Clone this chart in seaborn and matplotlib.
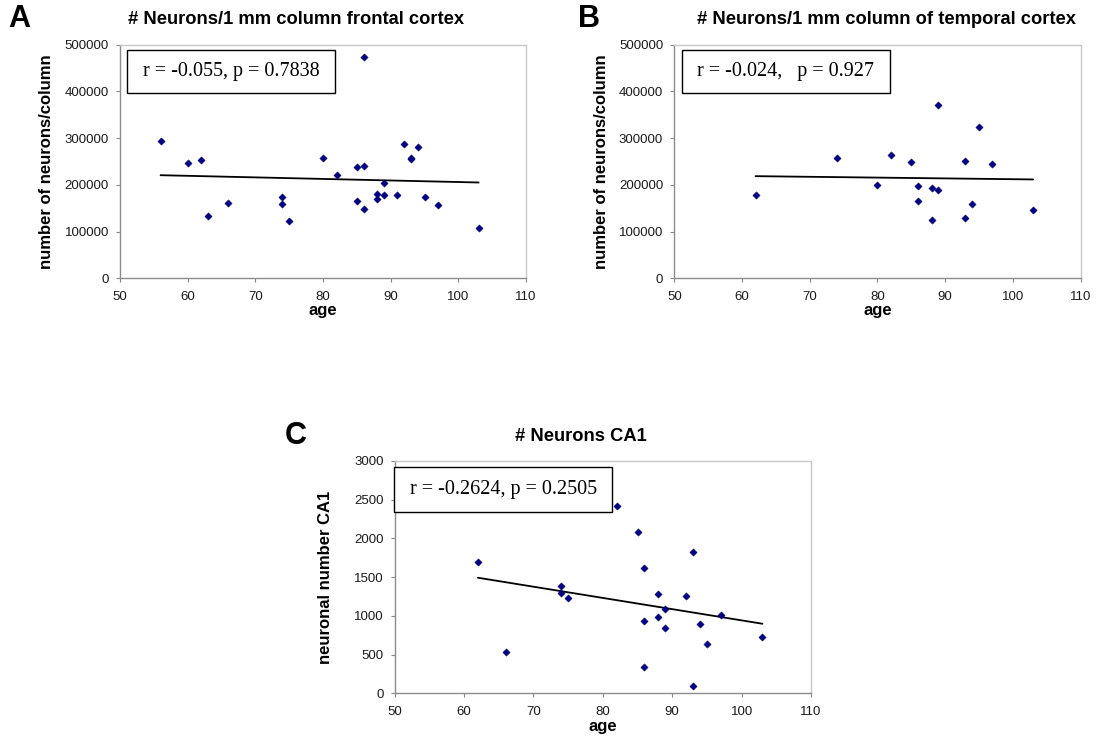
import numpy as np
import pandas as pd
import matplotlib
matplotlib.use("Agg")
import matplotlib.pyplot as plt
from matplotlib.patches import Rectangle
import seaborn as sns

# ---------------- data ----------------
age_a = [56, 60, 62, 63, 66, 74, 74, 75, 80, 82, 85, 85, 86, 86, 86, 88, 88,
         89, 89, 91, 92, 93, 93, 94, 95, 97, 103]
neurons_a = [294000, 246000, 253000, 133000, 162000, 175000, 160000, 123000,
             257000, 222000, 238000, 166000, 240000, 148000, 474000, 180000,
             170000, 204000, 178000, 178000, 288000, 257000, 255000, 280000,
             173000, 157000, 108000]

age_b = [62, 74, 80, 82, 85, 86, 86, 88, 88, 89, 89, 93, 93, 94, 95, 97, 103]
neurons_b = [179000, 257000, 200000, 263000, 248000, 198000, 165000, 193000,
             125000, 189000, 370000, 252000, 130000, 160000, 323000, 245000,
             146000]

age_c = [62, 66, 74, 74, 75, 82, 85, 86, 86, 86, 88, 88, 89, 89, 92, 93, 93,
         94, 95, 97, 103]
neurons_c = [1690, 534, 1381, 1295, 1226, 2418, 2087, 1622, 934, 340, 1282,
             990, 1089, 843, 1252, 1829, 95, 895, 633, 1007, 727]

titles = ["# Neurons/1 mm column frontal cortex",
          "# Neurons/1 mm column of temporal cortex",
          "# Neurons CA1"]
ylabels = ["number of neurons/column", "number of neurons/column",
           "neuronal number CA1"]
stats = ["r = -0.055, p = 0.7838", "r = -0.024,   p = 0.927",
         "r = -0.2624, p = 0.2505"]
letters = ["A", "B", "C"]
xticks = [50, 60, 70, 80, 90, 100, 110]
yticks_ab = [0, 100000, 200000, 300000, 400000, 500000]
yticks_c = [0, 500, 1000, 1500, 2000, 2500, 3000]

# ---------------- style ----------------
sns.set_theme(style="white")
plt.rcParams["font.family"] = ["Liberation Sans", "DejaVu Sans"]
plt.rcParams["text.color"] = "black"
plt.rcParams["axes.labelcolor"] = "black"

W, H = 1104, 738
fig = plt.figure(figsize=(W / 100, H / 100), dpi=100)


def fx(x):
    return x / W


def fy(y):
    return 1 - y / H


# axes rectangles in pixels: left, top, right, bottom
rects = [(120, 44.7, 526, 278.3), (674.3, 44.7, 1080.5, 278.3),
         (394.7, 461, 811, 693.3)]
boxes = [(126.7, 50, 335, 92.7), (681.7, 50, 890, 92.7),
         (394, 467.3, 612.3, 511.7)]
title_pos = [(296, 20), (886.7, 20), (581, 437)]
letter_pos = [(19, 19), (589, 19), (296, 436)]
ylab_x = [47, 601, 326]
xlab_y = [311, 311, 727]

datasets = [(age_a, neurons_a, yticks_ab), (age_b, neurons_b, yticks_ab),
            (age_c, neurons_c, yticks_c)]

for i, ((ages, vals, yt), (l, t, r, b)) in enumerate(zip(datasets, rects)):
    ax = fig.add_axes([fx(l), fy(b), fx(r - l), (b - t) / H])
    df = pd.DataFrame({"age": ages, "n": vals})
    sns.regplot(data=df, x="age", y="n", ax=ax, scatter=False, ci=None,
                truncate=True, line_kws=dict(color="black", lw=1.3))
    sns.scatterplot(data=df, x="age", y="n", ax=ax, marker="D", s=14,
                    color="#000080", edgecolor="#000080", linewidth=0.3,
                    zorder=3)
    ax.set_xlim(50, 110)
    ax.set_ylim(yt[0], yt[-1])
    ax.set_xticks(xticks)
    ax.set_yticks(yt)
    ax.set_xticklabels([str(v) for v in xticks])
    ax.set_yticklabels([str(v) for v in yt])
    ax.tick_params(axis="both", labelsize=9.5, labelcolor="#1a1a1a",
                   length=3, width=0.8, direction="out",
                   left=True, bottom=True, color="#888888")
    ax.tick_params(axis="x", pad=6)
    ax.tick_params(axis="y", pad=5)
    for s in ["left", "bottom"]:
        ax.spines[s].set_color("#8c8c8c")
        ax.spines[s].set_linewidth(1.0)
    for s in ["top", "right"]:
        ax.spines[s].set_color("#c8c8c8")
        ax.spines[s].set_linewidth(1.0)
    ax.set_xlabel("")
    ax.set_ylabel("")
    fig.text(fx((l + r) / 2), fy(xlab_y[i]), "age", ha="center",
             va="center", fontsize=12, fontweight="bold")
    fig.text(fx(ylab_x[i]), fy((t + b) / 2), ylabels[i], rotation=90,
             ha="center", va="center", fontsize=12, fontweight="bold")
    # stats box
    bl, bt, br, bb = boxes[i]
    fig.patches.append(Rectangle((fx(bl), fy(bb)), fx(br - bl), (bb - bt) / H,
                                 transform=fig.transFigure, fill=True,
                                 facecolor="white", edgecolor="black", lw=1.0,
                                 zorder=5))
    fig.text(fx((bl + br) / 2), fy((bt + bb) / 2), stats[i], ha="center",
             va="center", fontsize=14.5, family=["Liberation Serif"],
             zorder=6)
    # title and letter
    tx, ty = title_pos[i]
    fig.text(fx(tx), fy(ty), titles[i], ha="center", va="center",
             fontsize=13.2, fontweight="bold")
    lx, ly = letter_pos[i]
    fig.text(fx(lx), fy(ly), letters[i], ha="center", va="center",
             fontsize=22, fontweight="bold")

fig.savefig("out.png", dpi=100)
